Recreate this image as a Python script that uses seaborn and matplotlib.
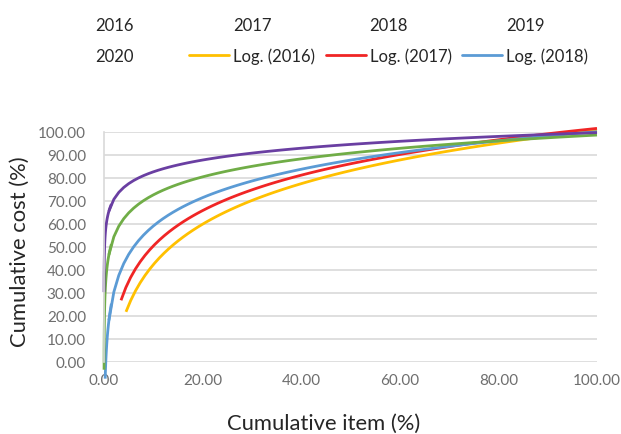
import numpy as np
import pandas as pd
import matplotlib
matplotlib.use("Agg")
import matplotlib.pyplot as plt
import seaborn as sns
from matplotlib.lines import Line2D

# ---- data (points along each logarithmic trend line) ----
years = ["2016", "2017", "2018", "2019", "2020"]
trend_labels = ["Log. (2016)", "Log. (2017)", "Log. (2018)", "Log. (2019)", "Log. (2020)"]

x_2016 = [4.46, 5, 6, 7, 8.5, 10, 14, 20, 27, 35, 45, 55, 65, 75, 87, 100]
y_2016 = [21.7, 24.6, 29.2, 33.1, 38.1, 42.2, 50.7, 59.8, 67.4, 74.0, 80.4, 85.5, 89.7, 93.4, 97.1, 100.7]

x_2017 = [3.45, 4, 5, 6, 7, 8.5, 10, 14, 20, 27, 35, 45, 55, 65, 75, 87, 100]
y_2017 = [26.7, 30.0, 34.9, 39.0, 42.4, 46.7, 50.3, 57.8, 65.7, 72.4, 78.1, 83.7, 88.2, 91.9, 95.0, 98.4, 101.4]

x_2018 = [0.24, 0.3, 0.4, 0.55, 0.7, 1, 1.5, 2, 3, 4, 5, 7, 10, 14, 20, 27, 35, 45, 55, 65, 75, 87, 100]
y_2018 = [-7.4, -3.4, 1.7, 7.4, 11.7, 18.0, 25.2, 30.3, 37.6, 42.7, 46.6, 52.6, 59.0, 65.0, 71.3, 76.7,
          81.3, 85.8, 89.3, 92.3, 94.9, 97.5, 100.0]

x_2019 = [0.012, 0.03, 0.1, 0.2, 0.4, 0.7, 1, 1.5, 2, 3, 4, 5, 7, 10, 14, 20, 27, 35, 45, 55, 65, 75, 87, 100]
y_2019 = [-3.5, 6.9, 20.5, 28.3, 36.2, 42.5, 46.5, 51.1, 54.3, 58.9, 62.2, 64.7, 68.5, 72.5, 76.3, 80.4,
          83.7, 86.7, 89.5, 91.8, 93.7, 95.3, 97.0, 98.5]

x_2020 = [0.0085, 0.03, 0.1, 0.2, 0.4, 0.7, 1, 1.5, 2, 3, 4, 5, 7, 10, 14, 20, 27, 35, 45, 55, 65, 75, 87, 100]
y_2020 = [30.2, 39.6, 48.5, 53.6, 58.7, 62.9, 65.5, 68.5, 70.6, 73.6, 75.8, 77.4, 79.9, 82.5, 85.0, 87.7,
          89.9, 91.8, 93.7, 95.2, 96.4, 97.5, 98.6, 99.6]

x_ticks = [0, 20, 40, 60, 80, 100]
y_ticks = [0, 10, 20, 30, 40, 50, 60, 70, 80, 90, 100]

series_x = [x_2016, x_2017, x_2018, x_2019, x_2020]
series_y = [y_2016, y_2017, y_2018, y_2019, y_2020]
colors = ["#FFC000", "#F02525", "#5B9BD5", "#70AD47", "#6A3FA2"]

# ---- figure ----
sns.set_theme(style="white")
plt.rcParams["font.family"] = ["Lato", "DejaVu Sans"]

fig = plt.figure(figsize=(6.21, 4.35), dpi=100)
ax = fig.add_axes([104 / 621, 1 - 362.7 / 435, 493 / 621, 230 / 435])

line_kws = dict(lw=2.0, clip_on=False, solid_capstyle="butt", solid_joinstyle="round")
for xs, ys, c in zip(series_x, series_y, colors):
    xs = np.array(xs, dtype=float)
    ys = np.array(ys, dtype=float)
    # logarithmic trend line fitted by seaborn; the steep start near x=0 is
    # fitted on its own range so that it is drawn smoothly
    pieces = [np.ones_like(xs, dtype=bool)] if xs.min() > 2 else [xs <= 1.5, xs >= 1]
    for m in pieces:
        sns.regplot(x=xs[m], y=ys[m], logx=True, scatter=False, ci=None, truncate=True,
                    color=c, ax=ax, line_kws=line_kws)

ax.set_xlim(0, 100)
ax.set_ylim(0, 100)
ax.set_xticks(x_ticks)
ax.set_yticks(y_ticks)
ax.set_xticklabels([f"{v:.2f}" for v in x_ticks])
ax.set_yticklabels([f"{v:.2f}" for v in y_ticks])
ax.tick_params(axis="both", length=0, labelsize=11, labelcolor="#6E6E6E")
ax.tick_params(axis="x", pad=8)
ax.tick_params(axis="y", pad=13)

ax.set_axisbelow(True)
ax.yaxis.grid(True, color="#D9D9D9", lw=1.2)
ax.xaxis.grid(False)
for s in ["top", "right", "bottom"]:
    ax.spines[s].set_visible(False)
ax.spines["left"].set_color("#D9D9D9")
ax.spines["left"].set_linewidth(1.2)

ax.set_xlabel("Cumulative item (%)", fontsize=15.8, color="#262626")
ax.set_ylabel("Cumulative cost (%)", fontsize=15.8, color="#262626")
ax.xaxis.set_label_coords(0.446, -0.222)
ax.yaxis.set_label_coords(-0.150, 0.481)

# ---- legend (Excel-like, clipped: only first 8 entries visible) ----
blank = Line2D([], [], color="none")
h_trend = [Line2D([], [], color=c, lw=2.0) for c in colors]

legA = fig.legend([blank, blank], [years[0], years[4]], loc="upper left",
                  bbox_to_anchor=(95 / 621, 1 - 18 / 435), frameon=False,
                  handlelength=0, handletextpad=0, borderpad=0, borderaxespad=0,
                  labelspacing=0.88, fontsize=12, labelcolor="#262626")
legB = fig.legend([blank, h_trend[0], blank, h_trend[1], blank, h_trend[2]],
                  [years[1], trend_labels[0], years[2], trend_labels[1], years[3], trend_labels[2]],
                  ncol=3, loc="upper left",
                  bbox_to_anchor=(189 / 621, 1 - 18 / 435), frameon=False,
                  handlelength=2.4, handletextpad=0.25, columnspacing=0.62,
                  borderpad=0, borderaxespad=0,
                  labelspacing=0.88, fontsize=12, labelcolor="#262626")

fig.savefig("out.png", dpi=100)
